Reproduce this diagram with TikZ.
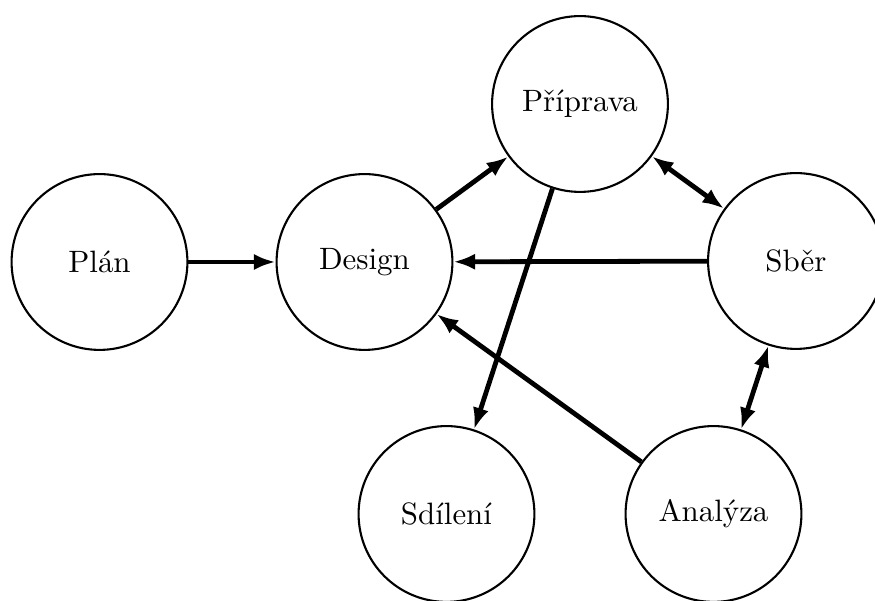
\documentclass[tikz,border=0pt]{standalone}
\usetikzlibrary{arrows.meta}
\begin{document}
\begin{tikzpicture}[x=0.3333pt,y=-0.3333pt,
  stage/.style={draw,circle,line width=0.7pt,minimum size=58.6pt,inner sep=0pt,font=\fontsize{10.3}{12}\selectfont},
  flow/.style={line width=1.6pt,-{Latex[length=7.2pt,width=5.4pt]}},
  both/.style={line width=1.6pt,{Latex[length=7.2pt,width=5.4pt]}-{Latex[length=7.2pt,width=5.4pt]}}]
\useasboundingbox (0,0) rectangle (875,601);
\node[stage] (plan) at (99.5,262) {Plán};
\node[stage] (design) at (364.5,262) {Design};
\node[stage] (priprava) at (580,104) {Příprava};
\node[stage] (sber) at (796,261) {Sběr};
\node[stage] (sdileni) at (446.5,514) {Sdílení};
\node[stage] (analyza) at (713.5,514) {Analýza};
\draw[flow] (plan) -- (design);
\draw[flow] (design) -- (priprava);
\draw[both] (priprava) -- (sber);
\draw[flow] (sber) -- (design);
\draw[flow] (priprava) -- (sdileni);
\draw[flow] (analyza) -- (design);
\draw[both] (sber) -- (analyza);
\end{tikzpicture}
\end{document}
